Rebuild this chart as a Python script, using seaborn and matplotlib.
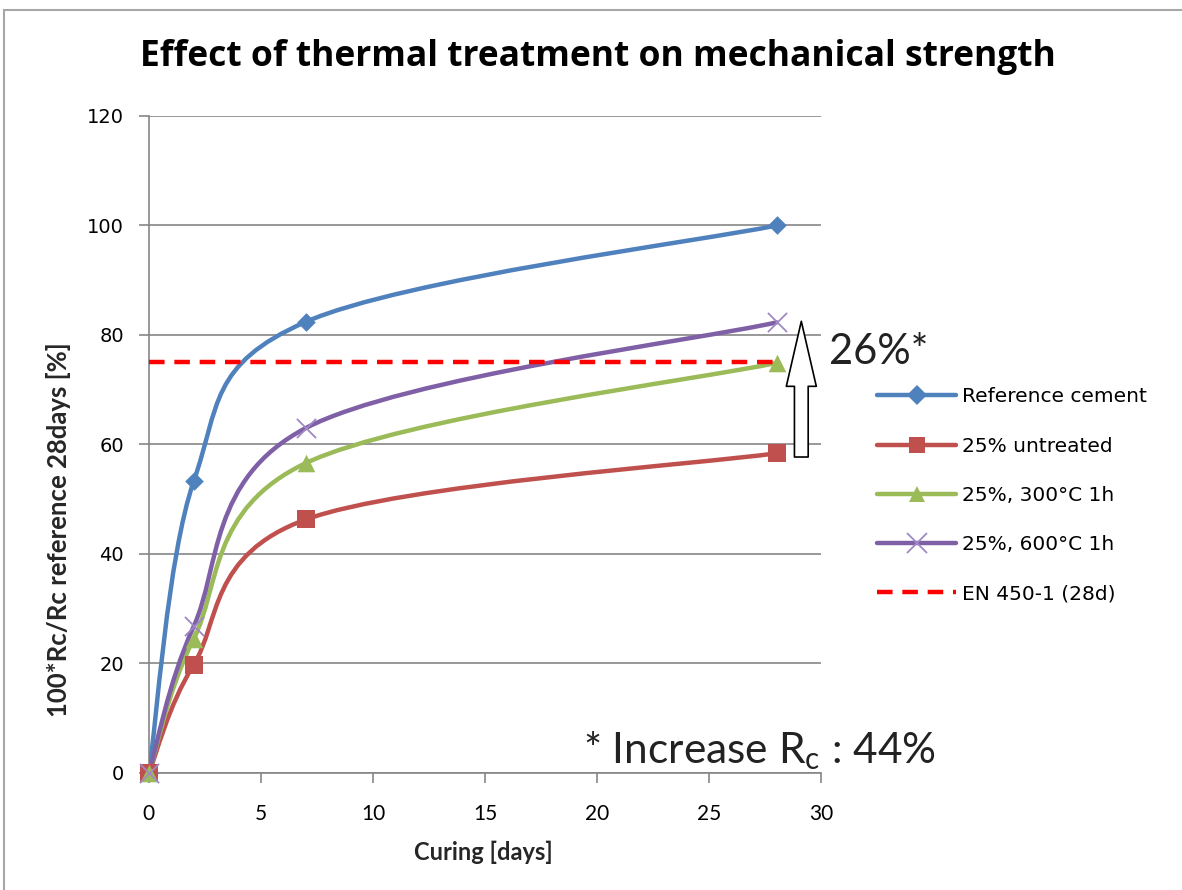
import numpy as np
import matplotlib
matplotlib.use('Agg')
import matplotlib.pyplot as plt
import seaborn as sns
from matplotlib.path import Path
from matplotlib.patches import PathPatch, Rectangle
from matplotlib.lines import Line2D

# data
days = [0, 2, 7, 28]
ref_cement = [0, 53.3, 82.4, 100]
untreated = [0, 19.8, 46.3, 58.4]
treated_300 = [0, 24.5, 56.6, 74.9]
treated_600 = [0, 26.8, 63.0, 82.3]
en450_level = 75
en450_days = [0, 28]

series_names = ['Reference cement', '25% untreated', '25%, 300°C 1h', '25%, 600°C 1h']
series_vals = [ref_cement, untreated, treated_300, treated_600]
colors = ['#4F81BD', '#C0504D', '#9BBB59', '#7F5FA6']
markers = ['D', 's', '^', 'x']
msizes = [90, 150, 160, 190]

sns.set_theme(style='white')
plt.rcParams['font.family'] = ['Lato', 'DejaVu Sans']
plt.rcParams['text.color'] = 'black'


def smooth_path(x, y):
    # Excel-like smoothed line (cubic bezier through the points)
    pts = np.column_stack([x, y]).astype(float)
    n = len(pts)
    verts = [pts[0]]
    codes = [Path.MOVETO]
    for i in range(n - 1):
        p0 = pts[max(i - 1, 0)]
        p1 = pts[i]
        p2 = pts[i + 1]
        p3 = pts[min(i + 2, n - 1)]
        verts += [p1 + (p2 - p0) / 6, p2 - (p3 - p1) / 6, p2]
        codes += [Path.CURVE4] * 3
    return Path(verts, codes)


fig = plt.figure(figsize=(11.82, 8.90), dpi=100)
ax = fig.add_axes([0.126, 0.1315, 0.569, 0.7382])

# outer frame of the chart area
fig.patches.append(Rectangle((0.003, -0.02), 1.2, 1.0093, transform=fig.transFigure,
                             fill=False, ec='#A6A6A6', lw=1.5))

sns.lineplot(x=en450_days, y=[en450_level] * len(en450_days), ax=ax, color='#FF0000',
             lw=3.2, dashes=(3.5, 2.2), zorder=4, legend=False)

for name, vals, c, m, s in zip(series_names, series_vals, colors, markers, msizes):
    ax.add_patch(PathPatch(smooth_path(days, vals), fill=False, ec=c, lw=3.2,
                           zorder=3, capstyle='round'))
    if m == 'x':
        sns.scatterplot(x=days, y=vals, marker=m, color='#9F88C4', s=s, linewidth=1.3,
                        ax=ax, zorder=5, clip_on=False)
    else:
        sns.scatterplot(x=days, y=vals, marker=m, color=c, s=s, linewidth=0,
                        ax=ax, zorder=5, clip_on=False)

ax.set_xlim(0, 30)
ax.set_ylim(0, 120)
ax.set_xticks(range(0, 31, 5))
ax.set_yticks(range(0, 121, 20))
ax.grid(axis='y', color='#868686', lw=1.2)
ax.grid(axis='x', visible=False)
for side in ['top', 'right']:
    ax.spines[side].set_visible(False)
for side in ['left', 'bottom']:
    ax.spines[side].set_color('#868686')
    ax.spines[side].set_linewidth(1.2)
ax.tick_params(axis='both', which='major', direction='out', length=7, width=1.2,
               color='#868686', bottom=True, left=True, labelcolor='black')
ax.tick_params(axis='y', pad=11)
ax.tick_params(axis='x', pad=15, labelsize=15)
for lab in ax.get_yticklabels():
    lab.set_family('DejaVu Sans')
    lab.set_fontsize(14)

ax.set_xlabel('Curing [days]', fontsize=17, fontweight='bold')
ax.xaxis.set_label_coords(0.498, -0.103)
ax.set_ylabel('100*Rc/Rc reference 28days [%]', fontsize=18.5, fontweight='bold')
ax.yaxis.set_label_coords(-0.116, 0.37)

fig.text(0.506, 0.936, 'Effect of thermal treatment on mechanical strength',
         ha='center', va='center', fontsize=25.5, fontweight='bold', family='Open Sans')

# hollow arrow showing the gain
ax.annotate('', xy=(29.1, 83.0), xytext=(29.1, 57.2),
            arrowprops=dict(arrowstyle='simple,head_length=2.6,head_width=1.2,tail_width=0.55',
                            fc='white', ec='black', lw=1.2, mutation_scale=18))
fig.text(0.701, 0.604, '26%*', fontsize=30, ha='left', va='center', color='#222222')
fig.text(0.493, 0.157, r'* Increase R$_\mathregular{c}$ : 44%', fontsize=30.5,
         ha='left', va='center', color='#222222')

handles = []
for c, m in zip(colors, markers):
    if m == 'x':
        handles.append(Line2D([], [], color=c, lw=3.2, marker=m, markersize=14,
                              markeredgecolor='#9F88C4', markeredgewidth=1.3))
    else:
        handles.append(Line2D([], [], color=c, lw=3.2, marker=m,
                              markersize=10 if m == 'D' else 12, markeredgewidth=0))
handles.append(Line2D([], [], color='#FF0000', lw=3.2, dashes=(3.5, 2.2)))
fig.legend(handles, series_names + ['EN 450-1 (28d)'], loc='upper left',
           bbox_to_anchor=(0.727, 0.585), frameon=False, handlelength=3.9,
           handletextpad=0.3, labelspacing=1.5,
           prop={'family': 'DejaVu Sans', 'size': 14.5})

fig.savefig('out.png', dpi=100)
